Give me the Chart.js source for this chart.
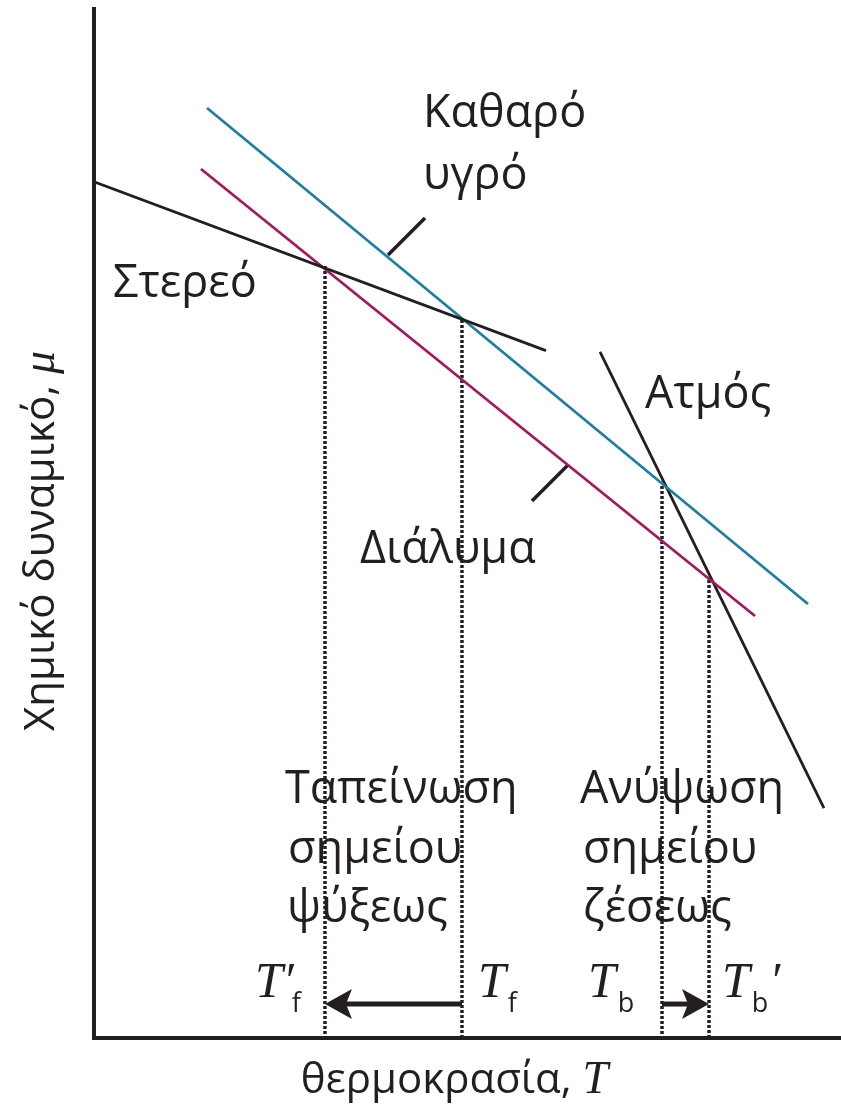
<!DOCTYPE html>
<html>
<head>
<meta charset="utf-8">
<script src="https://cdn.jsdelivr.net/npm/chart.js@4.4.1/dist/chart.umd.min.js"></script>
<style>
  html, body { margin: 0; padding: 0; background: #ffffff; }
  #wrap { width: 841px; height: 1108px; position: relative; }
</style>
</head>
<body>
<div id="wrap"><canvas id="c"></canvas></div>
<script>
// Temperature T and chemical potential μ in arbitrary units (0–100).
const solidT = [0, 60.5];
const solidMu = [83.2, 66.8];
const liquidT = [15.13, 95.58];
const liquidMu = [90.38, 42.18];
const solutionT = [14.32, 88.49];
const solutionMu = [84.45, 41.01];
const vaporT = [67.74, 97.72];
const vaporMu = [66.67, 22.35];

// Transition temperatures T'f, Tf, Tb, T'b and the μ where each drop line starts
const markT = [30.92, 49.26, 76.04, 82.33];
const markMu = [75.02, 69.78, 53.64, 44.51];

// Shift arrows: from → to (in T), drawn at a fixed μ
const arrowFrom = [49.26, 76.04];
const arrowTo = [30.92, 82.33];
const arrowMu = 3.3;

// Leader lines pointing at the curves
const leaderLiquidT = [39.36, 44.31];
const leaderLiquidMu = [76.09, 79.69];
const leaderSolutionT = [63.45, 58.63];
const leaderSolutionMu = [55.69, 52.19];

const INK = '#231f20';
const BLUE = '#1f7fa2';
const PURPLE = '#a3195e';
const SANS = '"Open Sans", "Noto Sans", sans-serif';
const SERIF = '"Liberation Serif", "DejaVu Serif", serif';

function pts(xs, ys) { return xs.map((x, i) => ({ x: x, y: ys[i] })); }

const lineDs = (label, xs, ys, color, width, dash) => ({
  label: label,
  data: pts(xs, ys),
  showLine: true,
  borderColor: color,
  borderWidth: width,
  borderDash: dash || [],
  pointRadius: 0,
  fill: false
});

const datasets = [
  lineDs('Στερεό', solidT, solidMu, INK, 2.8),
  lineDs('Καθαρό υγρό', liquidT, liquidMu, BLUE, 2.8),
  lineDs('Διάλυμα', solutionT, solutionMu, PURPLE, 2.8),
  lineDs('Ατμός', vaporT, vaporMu, INK, 2.8),
  lineDs('leader-liquid', leaderLiquidT, leaderLiquidMu, INK, 3.5),
  lineDs('leader-solution', leaderSolutionT, leaderSolutionMu, INK, 3.5)
];
markT.forEach((t, i) => {
  datasets.push(lineDs('drop-' + i, [t, t], [markMu[i], 0], INK, 3.5, [3, 2]));
});

// Text annotations: each entry is a list of runs drawn left to right
const labels = [
  { t: 44.04, mu: 88.53, runs: [['Καθαρό', 'sans']] },
  { t: 44.04, mu: 82.51, runs: [['υγρό', 'sans']] },
  { t: 2.54, mu: 72.01, runs: [['Στερεό', 'sans']] },
  { t: 73.76, mu: 61.22, runs: [['Ατμός', 'sans']] },
  { t: 35.61, mu: 46.16, runs: [['Διάλυμα', 'sans']] },
  { t: 25.57, mu: 22.84, runs: [['Ταπείνωση', 'sans']] },
  { t: 25.97, mu: 17.01, runs: [['σημείου', 'sans']] },
  { t: 25.84, mu: 11.27, runs: [['ψύξεως', 'sans']] },
  { t: 65.06, mu: 22.84, runs: [['Ανύψωση', 'sans']] },
  { t: 65.46, mu: 17.01, runs: [['σημείου', 'sans']] },
  { t: 65.46, mu: 11.27, runs: [['ζέσεως', 'sans']] },
  { t: 21.55, mu: 3.98, runs: [['T', 'ital'], ['′', 'ital'], ['f', 'sub', -2]] },
  { t: 51.41, mu: 3.98, runs: [['T', 'ital'], ['f', 'sub', 2]] },
  { t: 66.13, mu: 3.98, runs: [['T', 'ital'], ['b', 'sub', 2]] },
  { t: 84.07, mu: 3.98, runs: [['T', 'ital'], ['b', 'sub', 2], ['′', 'ital', 1, 0]] }
];

const FONTS = {
  sans: '45px ' + SANS,
  ital: 'italic 50px ' + SERIF,
  sub: '27px ' + SANS,
  title: '42px ' + SANS,
  titleItal: 'italic 46px ' + SERIF
};

function drawRuns(ctx, x, y, runs) {
  let cx = x;
  runs.forEach(r => {
    const kind = r[1];
    ctx.font = FONTS[kind];
    const dx = r[2] || 0;
    const dy = (kind === 'sub' ? 15 : 0) + (r[3] || 0);
    cx += dx;
    ctx.fillText(r[0], cx, y + dy);
    cx += ctx.measureText(r[0]).width;
  });
}

function drawArrow(ctx, x0, x1, y) {
  const dir = x1 > x0 ? 1 : -1;
  const len = 27, half = 15, notch = 6;
  ctx.save();
  ctx.strokeStyle = INK;
  ctx.fillStyle = INK;
  ctx.lineWidth = 5;
  ctx.beginPath();
  ctx.moveTo(x0, y);
  ctx.lineTo(x1 - dir * (len - notch), y);
  ctx.stroke();
  ctx.beginPath();
  ctx.moveTo(x1, y);
  ctx.lineTo(x1 - dir * len, y - half);
  ctx.lineTo(x1 - dir * (len - notch), y);
  ctx.lineTo(x1 - dir * len, y + half);
  ctx.closePath();
  ctx.fill();
  ctx.restore();
}

const annotate = {
  id: 'annotate',
  afterDraw(chart) {
    const ctx = chart.ctx;
    const xs = chart.scales.x, ys = chart.scales.y;
    ctx.save();
    ctx.fillStyle = INK;
    ctx.textBaseline = 'alphabetic';
    ctx.textAlign = 'left';
    labels.forEach(l => drawRuns(ctx, xs.getPixelForValue(l.t), ys.getPixelForValue(l.mu), l.runs));

    arrowFrom.forEach((f, i) => {
      drawArrow(ctx, xs.getPixelForValue(f), xs.getPixelForValue(arrowTo[i]), ys.getPixelForValue(arrowMu));
    });

    // Axis titles
    const area = chart.chartArea;
    const xTitle = 'θερμοκρασία, ';
    ctx.font = FONTS.title;
    const w1 = ctx.measureText(xTitle).width;
    ctx.font = FONTS.titleItal;
    const w2 = ctx.measureText('T').width;
    const xStart = (area.left + area.right) / 2 - (w1 + w2) / 2 - 13;
    const xBase = area.bottom + 55;
    ctx.font = FONTS.title;
    ctx.fillText(xTitle, xStart, xBase);
    ctx.font = FONTS.titleItal;
    ctx.fillText('T', xStart + w1, xBase);

    const yTitle = 'Χημικό δυναμικό, ';
    ctx.font = FONTS.title;
    const v1 = ctx.measureText(yTitle).width;
    ctx.translate(area.left - 40, 731);
    ctx.rotate(-Math.PI / 2);
    ctx.fillText(yTitle, 0, 0);
    ctx.font = FONTS.titleItal;
    ctx.fillText('μ', v1, 0);
    ctx.restore();
  }
};

const axis = {
  type: 'linear',
  min: 0,
  max: 100,
  ticks: { display: false },
  grid: { display: false, drawTicks: false },
  border: { display: true, color: INK, width: 4 }
};

new Chart(document.getElementById('c'), {
  type: 'scatter',
  data: { datasets: datasets },
  options: {
    responsive: true,
    maintainAspectRatio: false,
    animation: false,
    layout: { padding: { left: 94, top: 9, right: 0, bottom: 70 } },
    plugins: { legend: { display: false }, tooltip: { enabled: false } },
    scales: { x: axis, y: Object.assign({}, axis) }
  },
  plugins: [annotate]
});
</script>
</body>
</html>
